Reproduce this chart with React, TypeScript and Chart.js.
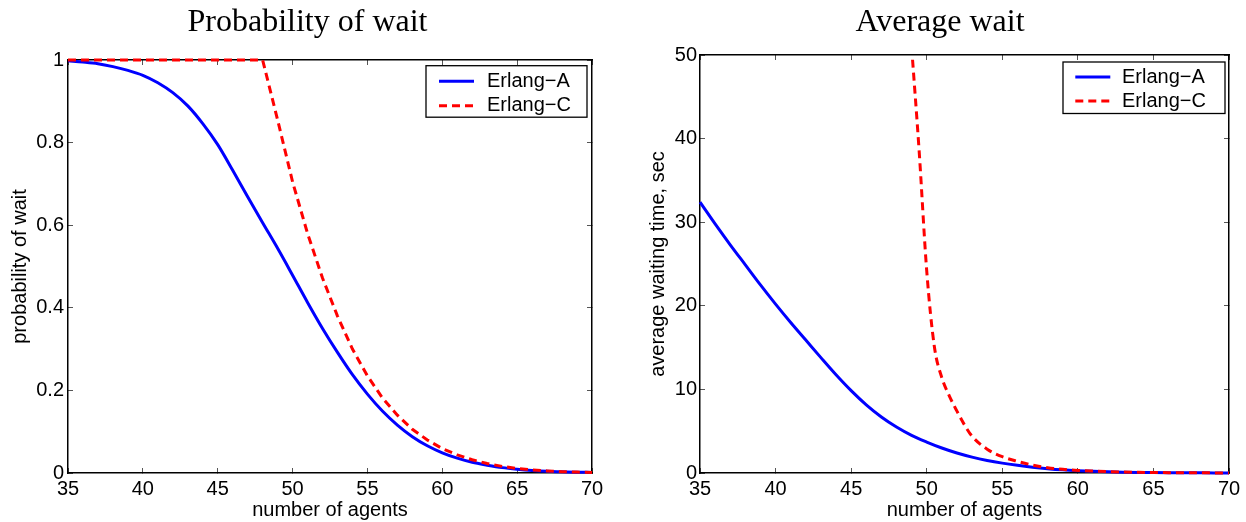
import React, { useEffect, useRef } from 'react';
import { Chart, registerables } from 'chart.js';

Chart.register(...registerables);

// ---------- data ----------
const agents = [35, 36, 37, 38, 39, 40, 41, 42, 43, 44, 45, 46, 47, 48, 49, 50, 51, 52, 53, 54, 55, 56, 57, 58, 59, 60, 61, 62, 63, 64, 65, 66, 67, 68, 69, 70];

const probWaitA = [0.998, 0.995, 0.991, 0.984, 0.975, 0.963, 0.945, 0.921, 0.889, 0.846, 0.795, 0.733, 0.669, 0.606, 0.544, 0.479, 0.413, 0.35, 0.292, 0.238, 0.191, 0.15, 0.116, 0.088, 0.066, 0.049, 0.036, 0.026, 0.019, 0.013, 0.009, 0.006, 0.004, 0.003, 0.002, 0.0015];

const probWaitC = [1, 1, 1, 1, 1, 1, 1, 1, 1, 1, 1, 1, 1, 1, 0.855, 0.705, 0.58, 0.472, 0.38, 0.3, 0.235, 0.182, 0.14, 0.106, 0.08, 0.059, 0.044, 0.032, 0.023, 0.016, 0.011, 0.0075, 0.005, 0.0033, 0.0022, 0.0015];

const avgWaitA = [32.4, 29.8, 27.3, 24.9, 22.5, 20.2, 18.0, 15.9, 13.8, 11.75, 9.85, 8.15, 6.7, 5.5, 4.5, 3.7, 2.99, 2.39, 1.9, 1.5, 1.18, 0.92, 0.7, 0.52, 0.38, 0.28, 0.2, 0.14, 0.1, 0.07, 0.05, 0.035, 0.025, 0.017, 0.012, 0.008];

const agentsWaitC = [49, 49.5, 50, 50.5, 51, 51.5, 52, 52.5, 53, 54, 55, 56, 57, 58, 59, 60, 61, 62, 63, 64, 65, 66, 67, 68, 69, 70];
const avgWaitC = [51, 38.5, 24.2, 15.2, 11.4, 9.2, 7.4, 5.75, 4.4, 2.85, 1.95, 1.4, 0.95, 0.64, 0.44, 0.31, 0.23, 0.17, 0.12, 0.085, 0.06, 0.042, 0.03, 0.021, 0.015, 0.01];

const xTicks = [35, 40, 45, 50, 55, 60, 65, 70];
const probTicks = [0, 0.2, 0.4, 0.6, 0.8, 1];
const waitTicks = [0, 10, 20, 30, 40, 50];

const seriesNames = ['Erlang\u2212A', 'Erlang\u2212C'];

// ---------- styles ----------
const SANS = '"Liberation Sans", Arial, Helvetica, sans-serif';
const SERIF = '"Liberation Serif", "Times New Roman", serif';
const BLUE = '#0000ff';
const RED = '#ff0000';

const boxLegend = {
  id: 'boxLegend',
  afterDatasetsDraw(chart: any, _args: any, opts: any) {
    const { ctx, chartArea } = chart;
    const w = opts.width;
    const h = opts.height;
    const x0 = chartArea.right - opts.right - w;
    const y0 = chartArea.top + opts.top;
    ctx.save();
    ctx.fillStyle = '#ffffff';
    ctx.fillRect(x0, y0, w, h);
    ctx.strokeStyle = '#000000';
    ctx.lineWidth = 1.3;
    ctx.strokeRect(x0, y0, w, h);
    chart.data.datasets.forEach((ds: any, i: number) => {
      const cy = y0 + opts.firstRow + i * opts.rowGap;
      ctx.beginPath();
      ctx.setLineDash(ds.borderDash || []);
      ctx.strokeStyle = ds.borderColor;
      ctx.lineWidth = ds.borderWidth;
      ctx.moveTo(x0 + opts.lineStart, cy);
      ctx.lineTo(x0 + opts.lineStart + opts.lineLen, cy);
      ctx.stroke();
      ctx.setLineDash([]);
      ctx.fillStyle = '#000000';
      ctx.font = `20px ${SANS}`;
      ctx.textBaseline = 'middle';
      ctx.textAlign = 'left';
      ctx.fillText(ds.label, x0 + opts.textStart, cy);
    });
    ctx.restore();
  },
};

function makeAxis(position: string, min: number, max: number, step: number, showLabels: boolean, size: number, pad: number, title?: string, titlePad?: any) {
  const horizontal = position === 'top' || position === 'bottom';
  return {
    type: 'linear',
    position,
    min,
    max,
    ticks: {
      stepSize: step,
      display: showLabels,
      color: '#000',
      autoSkip: false,
      maxRotation: 0,
      padding: pad,
      font: { family: SANS, size: 20, lineHeight: 1 },
      callback: (v: number) => `${Math.round(v * 1000) / 1000}`,
    },
    grid: {
      display: true,
      drawOnChartArea: false,
      drawTicks: true,
      tickLength: -5,
      color: '#555',
      lineWidth: 1,
    },
    border: { display: true, color: '#000', width: 1.5 },
    title: title
      ? {
          display: true,
          text: title,
          color: '#000',
          font: { family: SANS, size: 20, lineHeight: 1 },
          padding: titlePad,
        }
      : { display: false },
    afterFit: (s: any) => {
      if (horizontal) s.height = size;
      else s.width = size;
    },
  };
}

function makeConfig(p: any) {
  return {
    type: 'line',
    data: {
      datasets: [
        {
          label: seriesNames[0],
          data: p.xA.map((x: number, i: number) => ({ x, y: p.yA[i] })),
          borderColor: BLUE,
          backgroundColor: BLUE,
          borderWidth: 3,
          pointRadius: 0,
          cubicInterpolationMode: 'monotone',
          fill: false,
          order: 1,
          clip: p.clip,
        },
        {
          label: seriesNames[1],
          data: p.xC.map((x: number, i: number) => ({ x, y: p.yC[i] })),
          borderColor: RED,
          backgroundColor: RED,
          borderWidth: 3,
          borderDash: [8, 5],
          pointRadius: 0,
          tension: 0,
          cubicInterpolationMode: p.smoothC ? 'monotone' : 'default',
          fill: false,
          order: 0,
          clip: p.clip,
        },
      ],
    },
    options: {
      responsive: false,
      maintainAspectRatio: false,
      animation: false,
      events: [],
      layout: { padding: 0, autoPadding: false },
      scales: {
        x: makeAxis('bottom', xTicks[0], xTicks[xTicks.length - 1], xTicks[1] - xTicks[0], true, 49, 11.5, 'number of agents', { top: 0, bottom: 1.5 }),
        x2: makeAxis('top', xTicks[0], xTicks[xTicks.length - 1], xTicks[1] - xTicks[0], false, p.topH, 0),
        y: makeAxis('left', p.yTicks[0], p.yTicks[p.yTicks.length - 1], p.yTicks[1] - p.yTicks[0], true, p.leftW, p.yPad, p.yTitle, { top: p.yTitlePad, bottom: 0 }),
        y2: makeAxis('right', p.yTicks[0], p.yTicks[p.yTicks.length - 1], p.yTicks[1] - p.yTicks[0], false, p.rightW, 0),
      },
      plugins: {
        legend: { display: false },
        tooltip: { enabled: false },
        title: {
          display: true,
          text: p.title,
          color: '#000',
          font: { family: SERIF, size: 32, weight: 'normal', lineHeight: 1.2 },
          padding: { top: 3.7, bottom: 0 },
        },
        boxLegend: p.legend,
      },
    },
    plugins: [boxLegend],
  };
}

export default function App() {
  const c1 = useRef<HTMLCanvasElement>(null);
  const c2 = useRef<HTMLCanvasElement>(null);

  useEffect(() => {
    const ch1 = new Chart(
      c1.current as HTMLCanvasElement,
      makeConfig({
        title: 'Probability of wait',
        xA: agents,
        yA: probWaitA,
        xC: agents,
        yC: probWaitC,
        smoothC: false,
        yTicks: probTicks,
        yTitle: 'probability of wait',
        yTitlePad: 10.5,
        yPad: 9,
        topH: 17.9,
        leftW: 68,
        rightW: 23,
        clip: false,
        legend: { width: 161, height: 51.5, right: 5, top: 5.7, firstRow: 15.5, rowGap: 24.5, lineStart: 13, lineLen: 35, textStart: 61 },
      }) as any
    );
    const ch2 = new Chart(
      c2.current as HTMLCanvasElement,
      makeConfig({
        title: 'Average wait',
        xA: agents,
        yA: avgWaitA,
        xC: agentsWaitC,
        yC: avgWaitC,
        smoothC: true,
        yTicks: waitTicks,
        yTitle: 'average waiting time, sec',
        yTitlePad: 20,
        yPad: 8,
        topH: 12.9,
        leftW: 72,
        rightW: 23,
        clip: { left: 5, right: 5, top: 0, bottom: 5 },
        legend: { width: 162, height: 51.5, right: 4, top: 7, firstRow: 15, rowGap: 24, lineStart: 12.3, lineLen: 35, textStart: 59 },
      }) as any
    );
    return () => {
      ch1.destroy();
      ch2.destroy();
    };
  }, []);

  return (
    <div style={{ position: 'fixed', left: 0, top: 0, width: 1246, height: 522, background: '#fff', overflow: 'hidden' }}>
      <canvas ref={c1} width={615} height={522} style={{ position: 'absolute', left: 0, top: 0, width: 615, height: 522 }} />
      <canvas ref={c2} width={624} height={522} style={{ position: 'absolute', left: 628, top: 0, width: 624, height: 522 }} />
    </div>
  );
}
